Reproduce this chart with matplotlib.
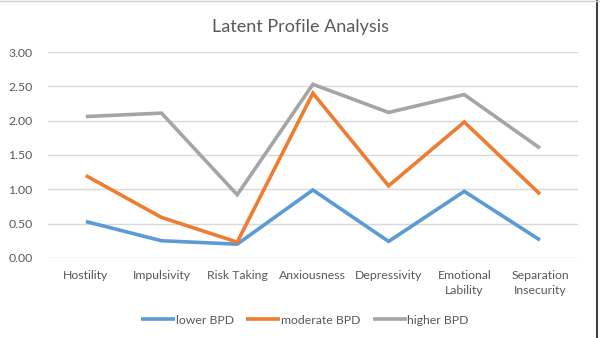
import matplotlib.pyplot as plt
from matplotlib.lines import Line2D

plt.rcParams['font.family'] = ['Lato', 'DejaVu Sans']

categories = ['Hostility', 'Impulsivity', 'Risk Taking', 'Anxiousness',
              'Depressivity', 'Emotional\nLability', 'Separation\nInsecurity']
lower_bpd = [0.53, 0.25, 0.20, 0.99, 0.24, 0.97, 0.26]
moderate_bpd = [1.20, 0.59, 0.23, 2.40, 1.05, 1.98, 0.93]
higher_bpd = [2.06, 2.11, 0.92, 2.53, 2.12, 2.38, 1.60]
y_ticks = [0.0, 0.5, 1.0, 1.5, 2.0, 2.5, 3.0]

series = [
    ('lower BPD', lower_bpd, '#5B9BD5'),
    ('moderate BPD', moderate_bpd, '#ED7D31'),
    ('higher BPD', higher_bpd, '#A5A5A5'),
]

fig = plt.figure(figsize=(6, 3.38), dpi=100)
ax = fig.add_axes([0.08, 0.237, 0.883, 0.609])

x = list(range(len(categories)))
for label, values, color in series:
    ax.plot(x, values, color=color, linewidth=2.6, label=label,
            solid_joinstyle='miter', solid_capstyle='butt')

ax.set_xlim(-0.5, len(categories) - 0.5)
ax.set_ylim(0, 3)
ax.set_yticks(y_ticks)
ax.set_yticklabels([f'{v:.2f}' for v in y_ticks])
ax.set_xticks(x)
ax.set_xticklabels(categories, linespacing=1.45)
ax.tick_params(axis='both', length=0, labelsize=8.8, colors='#595959')
ax.tick_params(axis='x', pad=9)
ax.tick_params(axis='y', pad=11)
ax.grid(axis='y', color='#D9D9D9', linewidth=1)
ax.set_axisbelow(True)
for side in ['top', 'right', 'left', 'bottom']:
    ax.spines[side].set_visible(False)

fig.suptitle('Latent Profile Analysis', y=0.945, fontsize=13, color='#595959')

ax.legend(loc='center', bbox_to_anchor=(0.508, 0.053), bbox_transform=fig.transFigure,
          ncol=3, frameon=False, fontsize=8.8, handlelength=2.8, handletextpad=0.05,
          columnspacing=1.0, labelcolor='#595959')

# frame edges seen in the screenshot
fig.add_artist(Line2D([0.995, 0.995], [0, 1], color='#404040', linewidth=1.5))
fig.add_artist(Line2D([0, 1], [0.998, 0.998], color='#D0D0D0', linewidth=1))

fig.savefig('out.png', dpi=100)
